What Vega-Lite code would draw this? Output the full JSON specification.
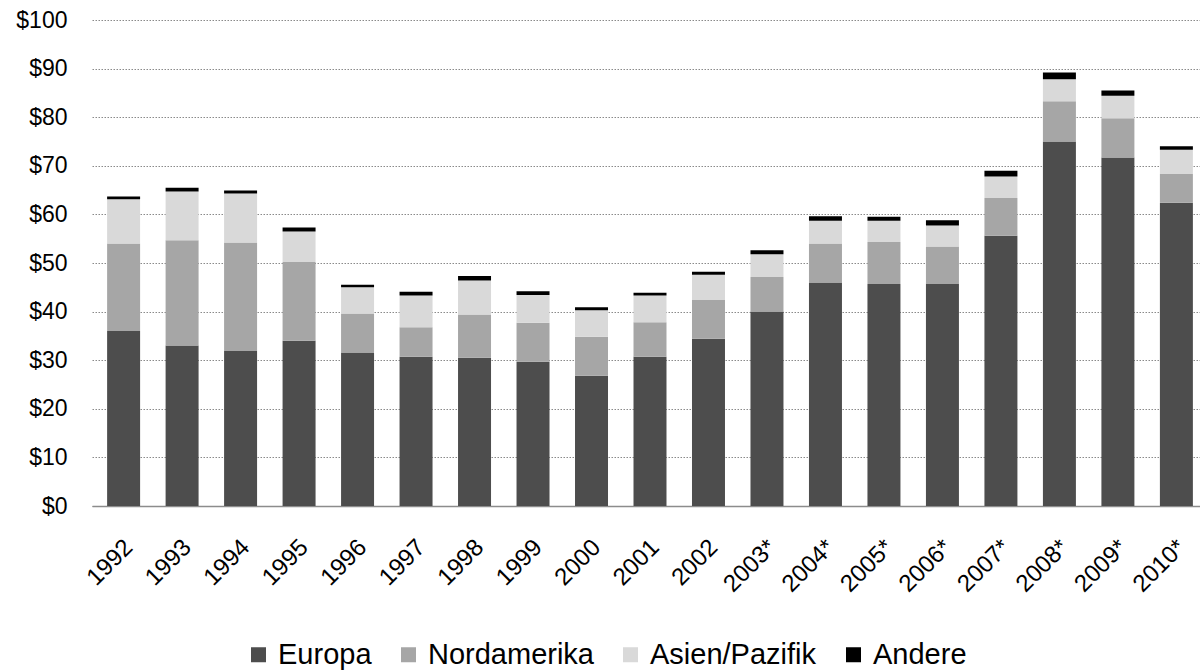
{
  "$schema": "https://vega.github.io/schema/vega-lite/v6.json",
  "width": 1108,
  "height": 486,
  "autosize": "none",
  "padding": {"left": 92, "top": 20, "right": 0, "bottom": 164},
  "background": "white",
  "config": {
    "view": {"stroke": null},
    "font": "Liberation Sans",
    "axis": {"labelFont": "Liberation Sans", "labelColor": "#000000"},
    "legend": {"labelFont": "Liberation Sans"}
  },
  "data": {
    "values": [
      {"year": "1992", "Europa": 36.0, "Nordamerika": 18.0, "Asien/Pazifik": 9.1, "Andere": 0.6},
      {"year": "1993", "Europa": 33.0, "Nordamerika": 21.7, "Asien/Pazifik": 10.0, "Andere": 0.8},
      {"year": "1994", "Europa": 31.9, "Nordamerika": 22.3, "Asien/Pazifik": 10.1, "Andere": 0.6},
      {"year": "1995", "Europa": 34.0, "Nordamerika": 16.2, "Asien/Pazifik": 6.3, "Andere": 0.8},
      {"year": "1996", "Europa": 31.6, "Nordamerika": 8.0, "Asien/Pazifik": 5.4, "Andere": 0.5},
      {"year": "1997", "Europa": 30.7, "Nordamerika": 6.1, "Asien/Pazifik": 6.5, "Andere": 0.8},
      {"year": "1998", "Europa": 30.5, "Nordamerika": 8.9, "Asien/Pazifik": 7.0, "Andere": 0.9},
      {"year": "1999", "Europa": 29.7, "Nordamerika": 8.0, "Asien/Pazifik": 5.7, "Andere": 0.8},
      {"year": "2000", "Europa": 26.8, "Nordamerika": 8.0, "Asien/Pazifik": 5.5, "Andere": 0.6},
      {"year": "2001", "Europa": 30.7, "Nordamerika": 7.1, "Asien/Pazifik": 5.5, "Andere": 0.6},
      {"year": "2002", "Europa": 34.4, "Nordamerika": 8.0, "Asien/Pazifik": 5.2, "Andere": 0.6},
      {"year": "2003*", "Europa": 40.0, "Nordamerika": 7.1, "Asien/Pazifik": 4.7, "Andere": 0.8},
      {"year": "2004*", "Europa": 46.0, "Nordamerika": 8.0, "Asien/Pazifik": 4.7, "Andere": 0.9},
      {"year": "2005*", "Europa": 45.7, "Nordamerika": 8.6, "Asien/Pazifik": 4.4, "Andere": 0.8},
      {"year": "2006*", "Europa": 45.7, "Nordamerika": 7.7, "Asien/Pazifik": 4.3, "Andere": 1.1},
      {"year": "2007*", "Europa": 55.6, "Nordamerika": 7.8, "Asien/Pazifik": 4.4, "Andere": 1.2},
      {"year": "2008*", "Europa": 75.0, "Nordamerika": 8.3, "Asien/Pazifik": 4.5, "Andere": 1.4},
      {"year": "2009*", "Europa": 71.7, "Nordamerika": 8.1, "Asien/Pazifik": 4.6, "Andere": 1.1},
      {"year": "2010*", "Europa": 62.4, "Nordamerika": 5.9, "Asien/Pazifik": 5.0, "Andere": 0.7}
    ]
  },
  "transform": [
    {"fold": ["Europa", "Nordamerika", "Asien/Pazifik", "Andere"], "as": ["region", "value"]},
    {"calculate": "indexof(['Europa', 'Nordamerika', 'Asien/Pazifik', 'Andere'], datum.region)", "as": "stackRank"}
  ],
  "mark": {"type": "bar"},
  "encoding": {
    "x": {
      "field": "year",
      "type": "nominal",
      "sort": null,
      "scale": {"paddingInner": 0.436, "paddingOuter": 0.19, "align": 0.68},
      "axis": {
        "title": null,
        "labelAngle": -45,
        "labelFontSize": 24,
        "labelPadding": 29,
        "labelOffset": -3,
        "ticks": false,
        "domain": true,
        "domainColor": "#8c8c8c",
        "domainWidth": 1.5,
        "grid": false
      }
    },
    "y": {
      "field": "value",
      "type": "quantitative",
      "stack": "zero",
      "scale": {"domain": [0, 100], "nice": false},
      "axis": {
        "title": null,
        "values": [0, 10, 20, 30, 40, 50, 60, 70, 80, 90, 100],
        "labelExpr": "'$' + datum.value",
        "labelFontSize": 23,
        "labelPadding": 25,
        "ticks": false,
        "domain": false,
        "grid": true,
        "gridColor": "#8a8a8a",
        "gridDash": [1.5, 1.5],
        "gridWidth": 1
      }
    },
    "color": {
      "field": "region",
      "type": "nominal",
      "sort": ["Europa", "Nordamerika", "Asien/Pazifik", "Andere"],
      "scale": {
        "domain": ["Europa", "Nordamerika", "Asien/Pazifik", "Andere"],
        "range": ["#4d4d4d", "#a6a6a6", "#d9d9d9", "#000000"]
      },
      "legend": {
        "title": null,
        "orient": "none",
        "direction": "horizontal",
        "columns": 4,
        "legendX": 152,
        "legendY": 620,
        "symbolType": "square",
        "symbolSize": 225,
        "symbolStrokeWidth": 0,
        "labelFontSize": 29,
        "labelLimit": 400,
        "labelOffset": 5,
        "columnPadding": 22,
        "labelColor": "#000000"
      }
    },
    "order": {"field": "stackRank", "type": "quantitative", "sort": "ascending"}
  }
}
